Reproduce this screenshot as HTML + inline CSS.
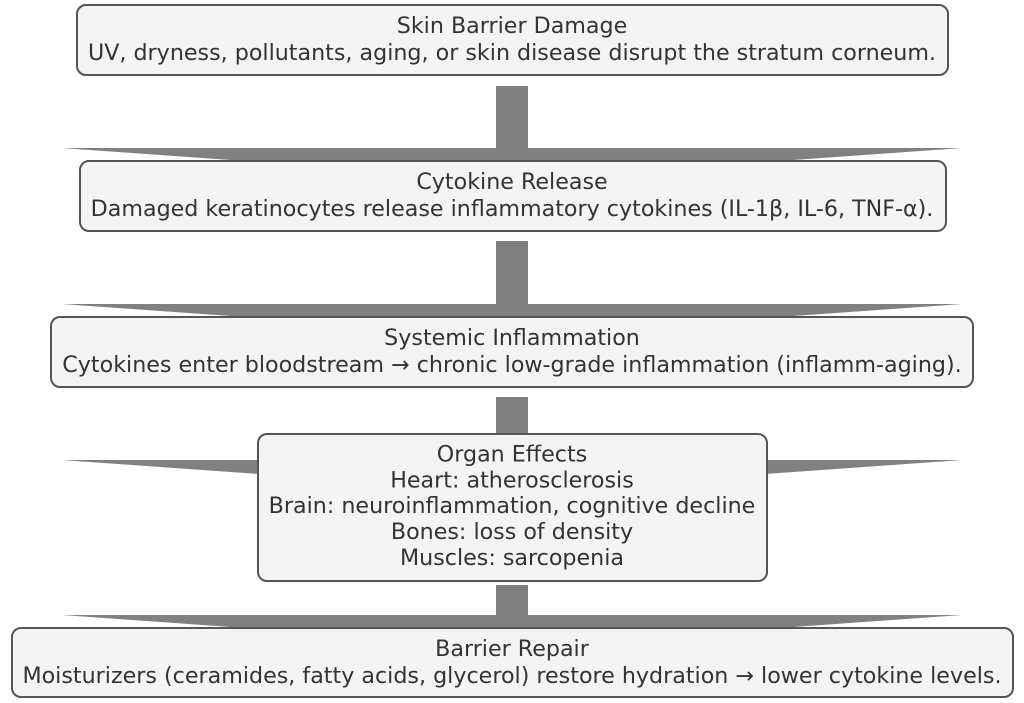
<!DOCTYPE html>
<html>
<head>
<meta charset="utf-8">
<style>
html,body{margin:0;padding:0;background:#fff;}
svg{display:block;}
text{font-family:"DejaVu Sans","Liberation Sans",sans-serif;font-size:22.2px;fill:#333333;text-anchor:middle;}
</style>
</head>
<body>
<svg width="1024" height="703" viewBox="0 0 1024 703" xmlns="http://www.w3.org/2000/svg">
  <!-- arrows -->
  <g fill="#808080">
    <polygon points="496,86 528,86 528,148 962,148 512,180 62,148 496,148"/>
    <polygon points="496,241 528,241 528,304 962,304 512,336 62,304 496,304"/>
    <polygon points="496,397 528,397 528,460 962,460 512,492 62,460 496,460"/>
    <polygon points="496,585 528,585 528,615 962,615 512,647 62,615 496,615"/>
  </g>
  <!-- boxes -->
  <g fill="#f4f4f4" stroke="#555555" stroke-width="2">
    <rect x="77" y="5" width="871" height="70" rx="9" ry="9"/>
    <rect x="80" y="161" width="866" height="70" rx="9" ry="9"/>
    <rect x="51" y="317" width="922" height="70" rx="9" ry="9"/>
    <rect x="258" y="434" width="509" height="147" rx="9" ry="9"/>
    <rect x="12" y="628" width="1001" height="69" rx="9" ry="9"/>
  </g>
  <!-- text -->
  <text x="512" y="33">Skin Barrier Damage</text>
  <text x="512" y="60">UV, dryness, pollutants, aging, or skin disease disrupt the stratum corneum.</text>

  <text x="512" y="189">Cytokine Release</text>
  <text x="512" y="216">Damaged keratinocytes release inflammatory cytokines (IL-1β, IL-6, TNF-α).</text>

  <text x="512" y="345">Systemic Inflammation</text>
  <text x="512" y="372">Cytokines enter bloodstream → chronic low-grade inflammation (inflamm-aging).</text>

  <text x="512" y="461.5">Organ Effects</text>
  <text x="512" y="487.5">Heart: atherosclerosis</text>
  <text x="512" y="513">Brain: neuroinflammation, cognitive decline</text>
  <text x="512" y="539">Bones: loss of density</text>
  <text x="512" y="565">Muscles: sarcopenia</text>

  <text x="512" y="656">Barrier Repair</text>
  <text x="512" y="683">Moisturizers (ceramides, fatty acids, glycerol) restore hydration → lower cytokine levels.</text>
</svg>
</body>
</html>
